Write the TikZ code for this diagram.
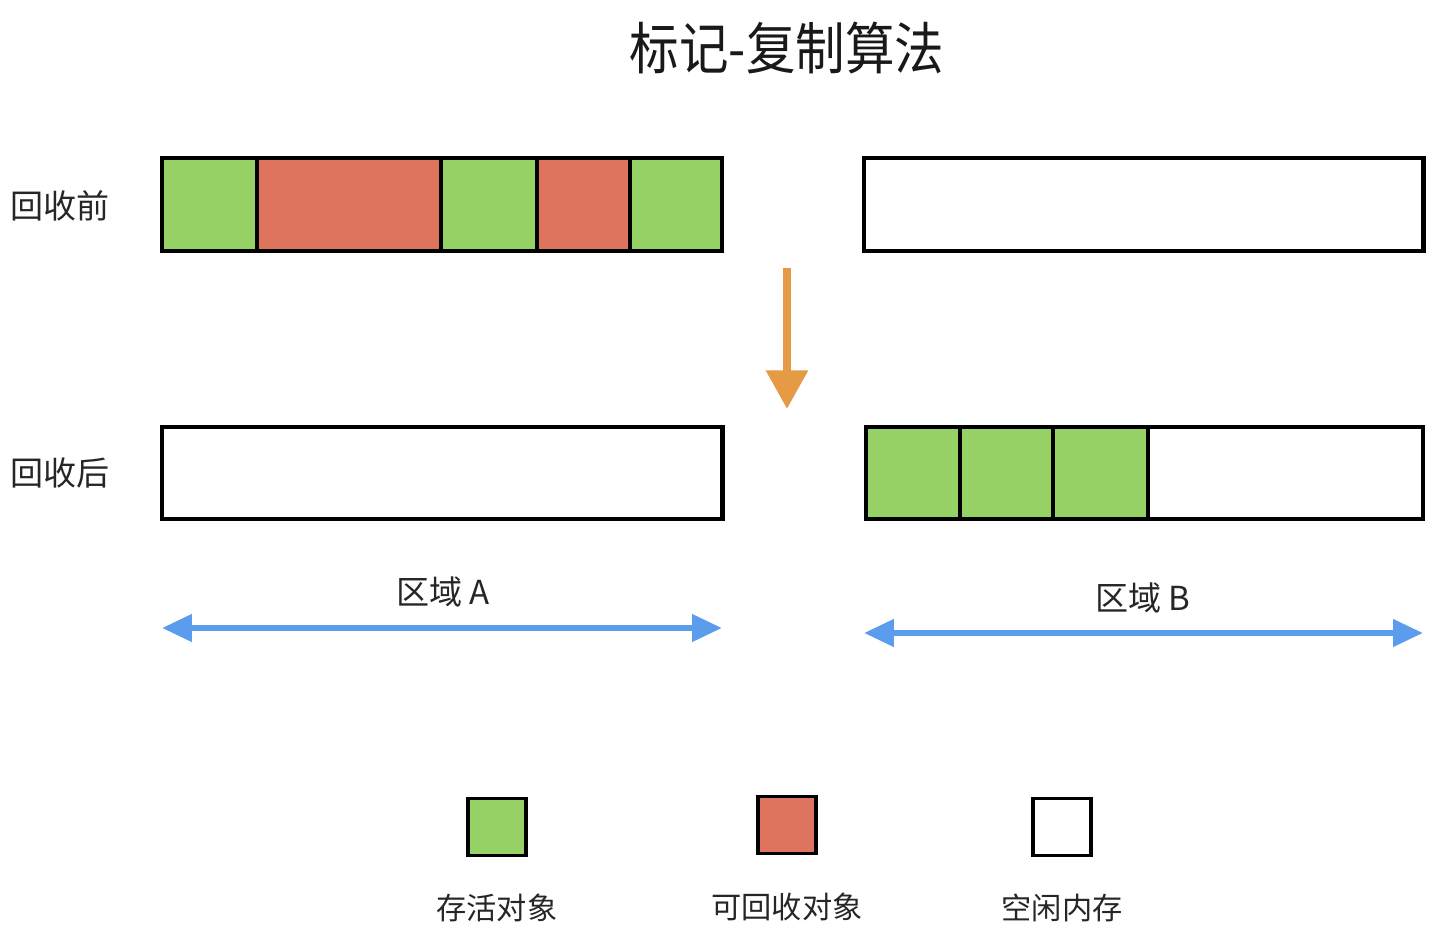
\documentclass[tikz,border=0pt]{standalone}
\usepackage{fontspec}
\setmainfont{Noto Sans CJK SC}
\usetikzlibrary{arrows.meta}

\definecolor{livegreen}{HTML}{95D165}
\definecolor{deadred}{HTML}{DE745E}
\definecolor{moveorange}{HTML}{E59A45}
\definecolor{spanblue}{HTML}{5B9CEC}

\begin{document}
\begin{tikzpicture}[x=0.01cm, y=-0.01cm]
    \tikzstyle{cell}=[draw=black, line width=1.25pt, fill=white, minimum height=0.93cm, inner sep=0pt, outer sep=0pt, anchor=north west]
    \tikzstyle{live}=[cell, fill=livegreen]
    \tikzstyle{dead}=[cell, fill=deadred]
    \tikzstyle{key}=[draw=black, line width=0.9pt, minimum width=0.58cm, minimum height=0.57cm, inner sep=0pt]
    \tikzstyle{lbl}=[text=black!85, font=\fontsize{9.4pt}{11pt}\selectfont, inner sep=0pt]
    \tikzstyle{keylbl}=[text=black!85, font=\fontsize{8.6pt}{10pt}\selectfont, inner sep=0pt]

\useasboundingbox (0,0) rectangle (1456,948);

% title
\node[text=black!90, font=\fontsize{16pt}{20pt}\selectfont] (title) at (787,48) {\scalebox{0.88}[1]{标记-复制算法}};

% row labels
\node[lbl] (before) at (60,206) {回收前};
\node[lbl] (after) at (60,473) {回收后};

% before: region A
\node[live, minimum width=0.95cm] (a1) at (162,158) {};
\node[dead, minimum width=1.84cm] (a2) at (257,158) {};
\node[live, minimum width=0.96cm] (a3) at (441,158) {};
\node[dead, minimum width=0.93cm] (a4) at (537,158) {};
\node[live, minimum width=0.92cm] (a5) at (630,158) {};
% before: region B
\node[cell, minimum width=5.59cm] (b0) at (864,158) {};

% after: region A
\node[cell, minimum width=5.60cm, minimum height=0.92cm] (c0) at (162,427) {};
% after: region B
\node[live, minimum width=0.94cm, minimum height=0.92cm] (d1) at (866,427) {};
\node[live, minimum width=0.93cm, minimum height=0.92cm] (d2) at (960,427) {};
\node[live, minimum width=0.95cm, minimum height=0.92cm] (d3) at (1053,427) {};
\node[cell, minimum width=2.75cm, minimum height=0.92cm] (d4) at (1148,427) {};

% copy arrow
\coordinate (mtop) at (787,268);
\coordinate (mbot) at (787,409);
\draw[moveorange, line width=2.3pt, -{Triangle[width=11.5pt, length=11pt]}] (mtop) -- (mbot);

% region spans
\node[lbl] (spanA) at (443,592) {区域 A};
\node[lbl] (spanB) at (1143,598) {区域 B};
\coordinate (al) at (162,628);
\coordinate (ar) at (722,628);
\coordinate (bl) at (864,633);
\coordinate (br) at (1423,633);
\draw[spanblue, line width=1.7pt, {Triangle[width=7.5pt, length=8.5pt]}-{Triangle[width=7.5pt, length=8.5pt]}] (al) -- (ar);
\draw[spanblue, line width=1.7pt, {Triangle[width=7.5pt, length=8.5pt]}-{Triangle[width=7.5pt, length=8.5pt]}] (bl) -- (br);

% legend
\node[key, fill=livegreen] (k1) at (497,827) {};
\node[key, fill=deadred] (k2) at (787,825) {};
\node[key, fill=white] (k3) at (1062,827) {};
\node[keylbl] (k1t) at (497,908) {存活对象};
\node[keylbl] (k2t) at (787,907) {可回收对象};
\node[keylbl] (k3t) at (1062,908) {空闲内存};
\end{tikzpicture}
\end{document}
